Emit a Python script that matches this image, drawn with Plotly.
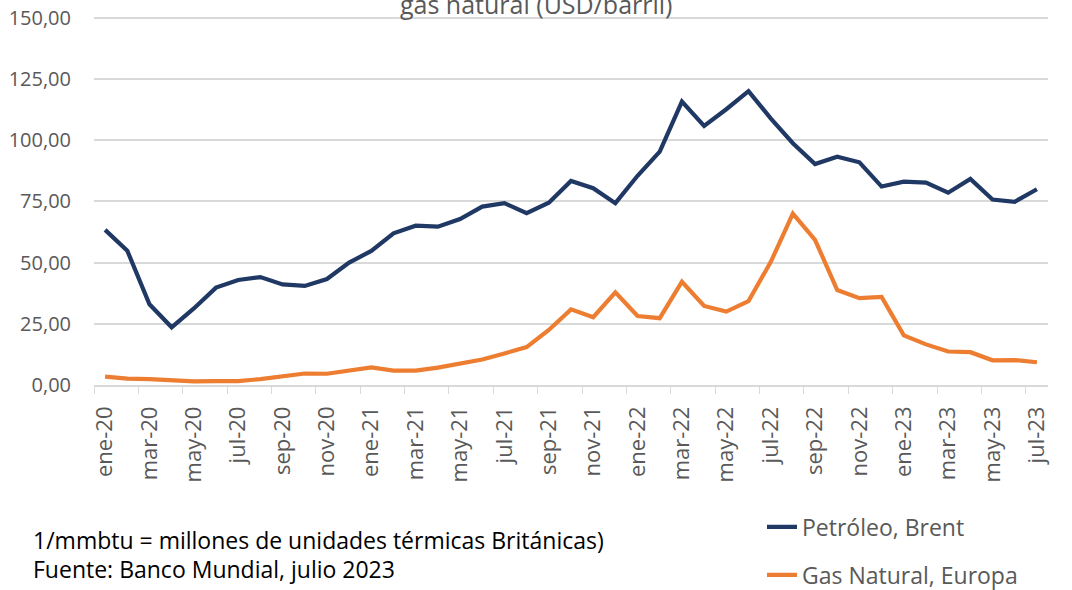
import plotly.graph_objects as go

months = ["ene", "feb", "mar", "abr", "may", "jun", "jul", "ago", "sep", "oct", "nov", "dic"]
categories = [f"{m}-{y}" for y in ["20", "21", "22", "23"] for m in months][:43]

brent = [63.4, 54.9, 33.0, 23.6, 31.3, 39.8, 42.9, 44.1, 41.1, 40.5, 43.3, 50.0,
         54.8, 62.0, 65.1, 64.7, 67.8, 72.9, 74.3, 70.2, 74.5, 83.4, 80.4, 74.3,
         85.5, 95.4, 115.8, 105.9, 112.7, 120.1, 109.0, 98.8, 90.3, 93.3, 91.0, 81.1,
         83.1, 82.7, 78.6, 84.2, 75.8, 74.9, 80.0]

gas = [3.4, 2.6, 2.4, 1.9, 1.5, 1.6, 1.6, 2.4, 3.7, 4.7, 4.6, 5.7,
       7.2, 5.9, 5.9, 7.1, 8.8, 10.4, 12.9, 15.5, 22.5, 30.9, 27.7, 37.9,
       28.2, 27.3, 42.2, 32.3, 30.0, 34.3, 50.2, 70.0, 59.3, 38.8, 35.5, 36.0,
       20.3, 16.6, 13.7, 13.4, 10.1, 10.2, 9.3]

series_names = ["Petróleo, Brent", "Gas Natural, Europa"]
y_ticks = [0, 25, 50, 75, 100, 125, 150]
title_text = "gas natural (USD/barril)"
note_lines = ["1/mmbtu = millones de unidades térmicas Británicas)",
              "Fuente: Banco Mundial, julio 2023"]

FONT = "Open Sans"
GRAY = "#595959"
GRID = "#d9d9d9"

fig = go.Figure()
fig.add_trace(go.Scatter(x=categories, y=brent, mode="lines", name=series_names[0],
                         line=dict(color="#203864", width=4.2, shape="linear"),
                         legend="legend"))
fig.add_trace(go.Scatter(x=categories, y=gas, mode="lines", name=series_names[1],
                         line=dict(color="#ED7D31", width=4.2, shape="linear"),
                         legend="legend2"))

# plot area slightly taller than the 0..150 span so the 150 gridline is drawn
top, bottom = 16, 385
ph = bottom - top
def py(p):
    return (bottom - p) / ph
L, R = 94, 1048
def px(p):
    return (p - L) / (R - L)

fig.update_layout(
    width=1072, height=590,
    margin=dict(l=L, r=1072 - R, t=top, b=590 - bottom, autoexpand=False),
    paper_bgcolor="white", plot_bgcolor="white",
    separators=",.",
    font=dict(family=FONT, size=20, color=GRAY),
    showlegend=True,
    hovermode=False,
    legend=dict(x=px(762), y=py(527), xanchor="left", yanchor="middle",
                bgcolor="rgba(0,0,0,0)", font=dict(family=FONT, size=23, color=GRAY)),
    legend2=dict(x=px(762), y=py(575), xanchor="left", yanchor="middle",
                 bgcolor="rgba(0,0,0,0)", font=dict(family=FONT, size=23, color=GRAY)),
    xaxis=dict(type="category", categoryorder="array", categoryarray=categories,
               range=[-0.5, len(categories) - 0.5], dtick=2, tick0=0,
               tickson="boundaries", ticks="outside", ticklen=7, tickcolor=GRID,
               tickangle=-90, showgrid=False, showline=True, linecolor=GRID,
               linewidth=1.5, tickfont=dict(family=FONT, size=22, color=GRAY),
               ticklabelstandoff=11, zeroline=False, automargin=False),
    yaxis=dict(range=[0, 150.8], tickvals=y_ticks, tickformat=".2f",
               showgrid=True, gridcolor=GRID, gridwidth=1.5, zeroline=False,
               showline=False, ticks="", ticklabelstandoff=22, automargin=False,
               ticklabeloverflow="allow",
               tickfont=dict(family=FONT, size=20, color=GRAY)),
)

fig.add_annotation(text=title_text, xref="paper", yref="paper", x=px(536), y=py(4),
                   xanchor="center", yanchor="middle", showarrow=False,
                   font=dict(family=FONT, size=25, color=GRAY))
fig.add_annotation(text=note_lines[0], xref="paper", yref="paper", x=px(31), y=py(540),
                   xanchor="left", yanchor="middle", showarrow=False,
                   font=dict(family=FONT, size=23, color="#000000"))
fig.add_annotation(text=note_lines[1], xref="paper", yref="paper", x=px(31), y=py(569),
                   xanchor="left", yanchor="middle", showarrow=False,
                   font=dict(family=FONT, size=23, color="#000000"))

fig.write_html("out.html", config={"displayModeBar": False},
               post_script="document.body.style.margin='0';document.body.style.overflow='hidden';")
